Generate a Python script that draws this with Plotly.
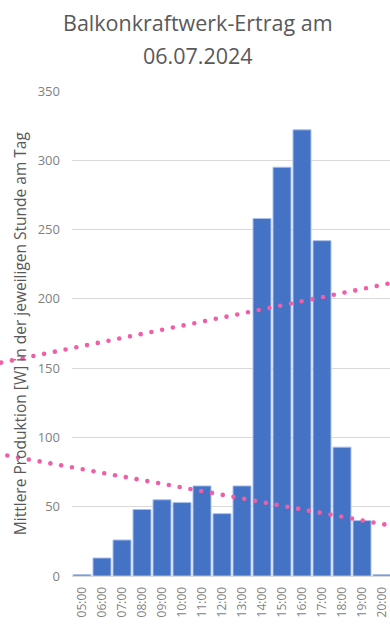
import math
import plotly.graph_objects as go

# Hourly mean output of the balcony PV system on 06.07.2024
hours = ["05:00", "06:00", "07:00", "08:00", "09:00", "10:00", "11:00", "12:00",
         "13:00", "14:00", "15:00", "16:00", "17:00", "18:00", "19:00", "20:00"]
watts = [1, 13, 26, 48, 55, 53, 65, 45, 65, 258, 295, 322, 242, 93, 40, 1]

y_ticks = [0, 50, 100, 150, 200, 250, 300, 350]

title_lines = ["Balkonkraftwerk-Ertrag am", "06.07.2024"]
y_title = "Mittlere Produktion [W] in der jeweiligen Stunde am Tag"

W, H = 390, 626
ML, MR, MT, MB = 72, 0, 90.7, 50
PW, PH = W - ML - MR, H - MT - MB

FONT = "'Open Sans', Lato, sans-serif"
GRAY = "#595959"
TICK_GRAY = "#7F7F7F"
PINK = "#EF5FA7"


def px_to_paper(px, py):
    return (px - ML) / PW, (H - MB - py) / PH


fig = go.Figure(
    go.Bar(
        x=hours,
        y=watts,
        marker=dict(color="#4472C4", line=dict(color="#A9C1EA", width=1)),
        hoverinfo="x+y",
    )
)

# Two pink dotted guide lines drawn across the whole chart
guides = [((0, 362.7), (392, 282.7), 1.2), ((0, 454.1), (392, 525.8), 7.3)]
shapes = []
for (x0, y0), (x1, y1), phase in guides:
    length = math.hypot(x1 - x0, y1 - y0)
    ux, uy = (x1 - x0) / length, (y1 - y0) / length
    step, r = 10.95, 2.3
    t = phase / ux
    while t <= length:
        cx, cy = x0 + ux * t, y0 + uy * t
        a0, b0 = px_to_paper(cx - r, cy + r)
        a1, b1 = px_to_paper(cx + r, cy - r)
        shapes.append(dict(type="circle", xref="paper", yref="paper",
                           x0=a0, x1=a1, y0=b0, y1=b1,
                           fillcolor=PINK, line=dict(width=0), layer="above"))
        t += step

annotations = []
for text, py in zip(title_lines, [22.5, 55]):
    ax, ay = px_to_paper(198, py)
    annotations.append(dict(text=text, xref="paper", yref="paper", x=ax, y=ay,
                            xanchor="center", yanchor="middle", showarrow=False,
                            font=dict(family=FONT, size=21.5, color=GRAY)))
tx, ty = px_to_paper(20, 333)
annotations.append(dict(text=y_title, xref="paper", yref="paper", x=tx, y=ty,
                        xanchor="center", yanchor="middle", textangle=-90,
                        showarrow=False,
                        font=dict(family=FONT, size=15.5, color=GRAY)))

fig.update_layout(
    width=W, height=H,
    margin=dict(l=ML, r=MR, t=MT, b=MB, pad=0),
    paper_bgcolor="white", plot_bgcolor="white",
    bargap=0.1,
    showlegend=False,
    shapes=shapes,
    annotations=annotations,
    xaxis=dict(
        type="category",
        range=[-0.5, 15.4],
        tickangle=-90,
        tickfont=dict(family=FONT, size=12, color=TICK_GRAY),
        showline=True, linecolor="#D9D9D9", linewidth=1,
        showgrid=False, ticks="",
        ticklabelstandoff=5,
        fixedrange=True,
    ),
    yaxis=dict(
        range=[0, 350],
        tickvals=y_ticks,
        tickfont=dict(family=FONT, size=13, color=TICK_GRAY),
        showgrid=True, gridcolor="#D9D9D9", gridwidth=1,
        zeroline=False, showline=False, ticks="",
        ticklabelstandoff=11,
        fixedrange=True,
    ),
)

fig.write_html("out.html", config={"displayModeBar": False})
